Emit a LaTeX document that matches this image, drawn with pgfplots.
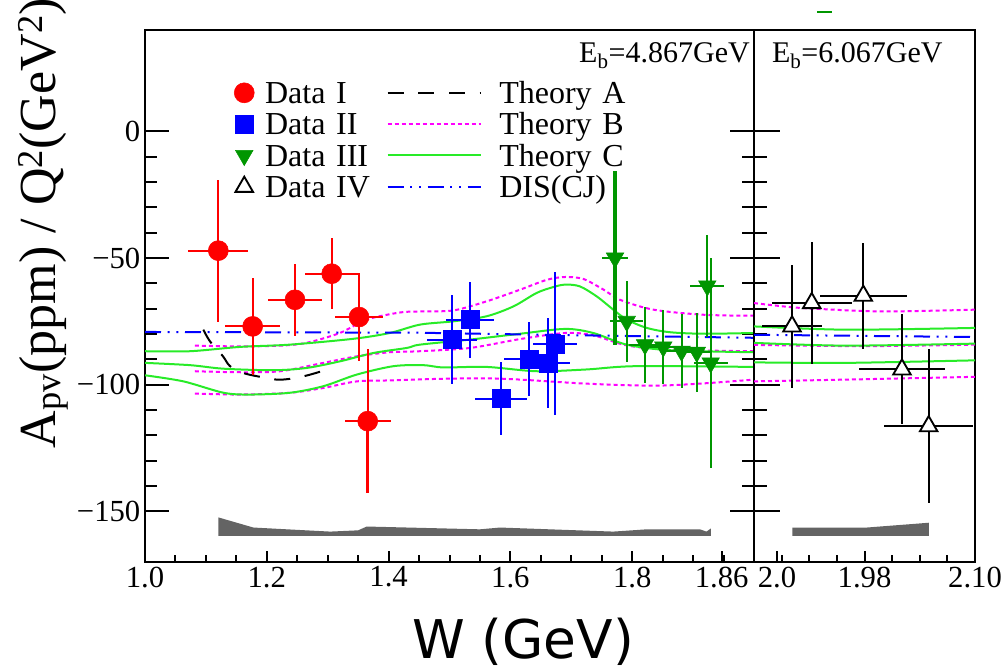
\documentclass[border=0pt]{standalone}
\usepackage{pgfplots}
\pgfplotsset{compat=1.18}
\usepackage{pgfplotstable}
\usepackage{fontspec}
\setmainfont{Liberation Serif}
\newfontfamily\serifmain{Liberation Serif}
\newfontfamily\labelsans{DejaVu Sans}

\definecolor{datared}{RGB}{255,0,0}
\definecolor{datablue}{RGB}{0,0,255}
\definecolor{datagreen}{RGB}{0,150,0}
\definecolor{theogreen}{RGB}{40,235,40}
\definecolor{theomag}{RGB}{255,0,255}
\definecolor{disblue}{RGB}{0,0,255}
\definecolor{sysgray}{RGB}{100,100,100}

% W (GeV), A_pv/Q^2, half-widths of the error bars
\pgfplotstableread{
x       y       ex      ey
1.1204  -47.1   0.049   28.0
1.1768  -77.0   0.045   19.0
1.2463  -66.5   0.044   14.3
1.3066  -56.2   0.044   13.9
1.3514  -73.3   0.040   17.3
1.3657  -114.4  0.038   28.5
}\dataI
\pgfplotstableread{
x       y       ex      ey
1.5041  -82.2   0.0405  17.7
1.5337  -74.3   0.039   15.0
1.5846  -105.5  0.042   14.3
1.6305  -89.8   0.041   14.5
1.6622  -91.4   0.035   17.7
1.6732  -83.9   0.0356  28.2
}\dataII
\pgfplotstableread{
x       y       ex      ey
1.7718  -50.0   0.021   34.3
1.7910  -75.0   0.027   16.0
1.8210  -84.2   0.026   15.0
1.8510  -85.1   0.029   14.5
1.8810  -86.8   0.029   14.7
1.9060  -87.2   0.025   15.6
1.9233  -61.0   0.028   20.0
1.9289  -91.4   0.028   41.5
}\dataIII
\pgfplotstableread{
x       y       ex      ey
1.9013  -77.0   0.0326  24.3
1.9227  -67.8   0.0434  24.0
1.9787  -64.9   0.047   21.0
2.0207  -94.0   0.0467  21.7
2.0497  -116.4  0.0485  30.4
}\dataIV

\newcommand{\ticksize}{\serifmain\fontsize{23pt}{23pt}\selectfont}

\pgfplotsset{
  panel/.style={
    scale only axis, height=399pt,
    ymin=-170, ymax=40,
    axis line style={line width=1.5pt},
    tick style={line width=1.5pt, black},
    tick align=inside,
    xtick pos=left,
    ytick={-150,-100,-50,0}, minor y tick num=4,
    minor x tick num=3,
    ticklabel style={font=\ticksize},
    clip=true,
  },
  theoB/.style={theomag, line width=1.5pt, dash pattern=on 3pt off 2.25pt},
  theoC/.style={theogreen, line width=1.5pt},
  theoA/.style={black, line width=1.5pt, dash pattern=on 12pt off 11pt},
  dis/.style={disblue, line width=1.5pt, dash pattern=on 12pt off 5pt on 1.5pt off 5pt on 1.5pt off 5pt},
  ebars/.style={error bars/.cd, x dir=both, x explicit, y dir=both, y explicit, error mark=none,
    error bar style={line width=#1}},
  markentry/.style={legend image code/.code={
      \path[draw=none, fill=none] (-11pt,-12pt) rectangle (15.6pt,12pt);
      \draw[##1] plot coordinates {(0pt,0pt)};}},
  lineentry/.style={legend image code/.code={
      \path[draw=none, fill=none] (0pt,-12pt) rectangle (83.7pt,12pt);
      \draw[##1] (0pt,0pt) -- (70pt,0pt);}},
}

\begin{document}
\begin{tikzpicture}
\useasboundingbox (0pt,0pt) rectangle (755.25pt,503.25pt);

% ---------------- E_b = 4.867 GeV ----------------
\begin{axis}[panel,
  at={(108.75pt,81.75pt)}, anchor=south west, width=456.75pt,
  xmin=1, xmax=2,
  xtick={1,1.2,1.4,1.6,1.8,2.0}, xticklabels={1.0,1.2,1.4,1.6,1.8,{}},
  extra x ticks={1.947}, extra x tick labels={1.86},
  extra x tick style={major tick length=0pt},
  yticklabels={−150,−100,−50,0},
  major tick length=18pt, minor tick length=9pt,
  xtick style={/pgfplots/major tick length=8.25pt, /pgfplots/minor tick length=5.25pt},
  legend columns=2, legend cell align=left,
  legend style={draw=none, fill=none, inner sep=0pt, outer sep=0pt,
    at={(axis description cs:0.1389,0.912)}, anchor=north west,
    font=\serifmain\fontsize{24pt}{24pt}\selectfont,
    row sep={23.5pt,between origins}, column sep=0pt,
    nodes={inner sep=0pt, text width=91.25pt, align=left, text height=15.9pt, text depth=0pt}},
]
\addlegendimage{markentry, only marks, mark=*, datared, mark size=7.5pt}
\addlegendentry{Data I}
\addlegendimage{lineentry, theoA}
\addlegendentry{\mbox{Theory A}}
\addlegendimage{markentry, only marks, mark=square*, datablue, mark size=6.75pt}
\addlegendentry{Data II}
\addlegendimage{lineentry, theoB}
\addlegendentry{\mbox{Theory B}}
\addlegendimage{markentry, only marks, mark=triangle*, datagreen, mark size=7.6pt, mark options={rotate=180}}
\addlegendentry{Data III}
\addlegendimage{lineentry, theoC}
\addlegendentry{\mbox{Theory C}}
\addlegendimage{markentry, only marks, mark=triangle*, black, mark size=7.6pt, mark options={fill=white, line width=1.4pt}}
\addlegendentry{Data IV}
\addlegendimage{lineentry, dis}
\addlegendentry{\mbox{DIS(CJ)}}

% systematic band
\addplot[forget plot, fill=sysgray, draw=none] coordinates {
  (1.1205,-152.4) (1.178,-156.4) (1.304,-158.0) (1.350,-157.5) (1.364,-156.0)
  (1.550,-157.1) (1.583,-156.4) (1.769,-158.0) (1.824,-157.1) (1.911,-157.1)
  (1.922,-158.0) (1.929,-156.8) (1.929,-159.7) (1.1205,-159.7)} -- cycle;

% Theory B band (upper, central, lower)
\addplot[forget plot, theoB, smooth] coordinates {
  (1.082,-84.6) (1.156,-84.9) (1.222,-84.6) (1.265,-83.5) (1.320,-79.6) (1.364,-74.3)
  (1.419,-71.5) (1.4516,-71.1) (1.5063,-70.7) (1.561,-67.1) (1.616,-62.5) (1.660,-58.6)
  (1.690,-57.5) (1.720,-58.3) (1.753,-62.5) (1.780,-66.5) (1.835,-70.4) (1.917,-72.4) (2.0,-72.8)};
\addplot[forget plot, theoB, smooth] coordinates {
  (1.082,-94.7) (1.156,-95.1) (1.222,-94.7) (1.293,-91.4) (1.348,-88.8) (1.402,-87.2)
  (1.4516,-86.8) (1.534,-85.5) (1.616,-82.0) (1.690,-79.6) (1.736,-80.5) (1.791,-84.5)
  (1.862,-86.2) (2.0,-86.8)};
\addplot[forget plot, theoB, smooth] coordinates {
  (1.082,-103.5) (1.156,-103.9) (1.238,-103.2) (1.293,-101.3) (1.348,-98.7) (1.408,-98.3)
  (1.484,-97.7) (1.56,-97.5) (1.616,-98.0) (1.725,-99.6) (1.835,-100.4) (1.917,-99.5) (2.0,-98.0)};

% Theory C band
\addplot[forget plot, theoC, smooth] coordinates {
  (1.0,-86.8) (1.074,-86.8) (1.156,-85.1) (1.238,-84.2) (1.342,-81.9) (1.402,-79.6)
  (1.4516,-76.3) (1.5063,-75.0) (1.561,-73.0) (1.605,-69.1) (1.643,-63.8) (1.670,-61.5)
  (1.690,-60.5) (1.714,-61.2) (1.742,-65.2) (1.769,-70.4) (1.791,-74.3) (1.824,-77.6)
  (1.862,-79.3) (1.917,-79.9) (2.0,-79.6)};
\addplot[forget plot, theoC, smooth] coordinates {
  (1.0,-91.4) (1.074,-92.3) (1.129,-93.7) (1.211,-94.3) (1.2655,-93.4) (1.320,-90.8)
  (1.375,-87.5) (1.43,-85.5) (1.4516,-84.2) (1.534,-82.2) (1.616,-79.9) (1.690,-78.0)
  (1.736,-79.6) (1.791,-84.2) (1.862,-86.4) (2.0,-87.2)};
\addplot[forget plot, theoC, smooth] coordinates {
  (1.0,-96.3) (1.063,-98.7) (1.129,-103.2) (1.172,-103.9) (1.238,-103.2) (1.293,-100.6)
  (1.348,-96.0) (1.408,-92.7) (1.457,-92.3) (1.49,-93.2) (1.561,-93.0) (1.643,-94.7)
  (1.725,-94.0) (1.807,-92.7) (2.0,-93.0)};

% Theory A
\addplot[forget plot, theoA, smooth] coordinates {
  (1.0958,-78.3) (1.1067,-82.9) (1.128,-88.8) (1.1396,-92.7) (1.1614,-95.4)
  (1.1888,-96.9) (1.216,-98.0) (1.238,-97.7) (1.2655,-96.4) (1.290,-94.7)};

% DIS(CJ)
\addplot[forget plot, dis] coordinates {(1.0,-79.2) (1.45,-79.5) (1.65,-80.3) (2.0,-81.5)};

% data
\addplot[forget plot, only marks, mark=*, datared, mark size=7.5pt, ebars=1.5pt]
  table[x=x, y=y, x error=ex, y error=ey] {\dataI};
\addplot[forget plot, only marks, mark=none, datared,
  error bars/.cd, y dir=minus, y explicit, error mark=none, error bar style={line width=2.4pt}]
  coordinates {(1.3657,-114.4) +- (0,28.5)};
\addplot[forget plot, only marks, mark=square*, datablue, mark size=6.75pt, ebars=1.5pt]
  table[x=x, y=y, x error=ex, y error=ey] {\dataII};
\addplot[forget plot, only marks, mark=triangle*, datagreen, mark size=7.6pt,
  mark options={rotate=180}, ebars=1.5pt]
  table[x=x, y=y, x error=ex, y error=ey] {\dataIII};
\addplot[forget plot, only marks, mark=none, datagreen,
  error bars/.cd, y dir=both, y explicit, error mark=none, error bar style={line width=2.4pt}]
  coordinates {(1.7718,-50.0) +- (0,34.3)};
\end{axis}

% ---------------- E_b = 6.067 GeV ----------------
\begin{axis}[panel,
  at={(565.5pt,81.75pt)}, anchor=south west, width=165.75pt,
  xmin=1.86, xmax=2.10,
  xtick={1.86,1.98,2.10}, xticklabels={{},1.98,2.10},
  extra x ticks={1.885}, extra x tick labels={2.0},
  extra x tick style={major tick length=0pt},
  yticklabels={},
  ytick pos=left,
  major tick length=19.5pt, minor tick length=9.75pt,
  xtick style={/pgfplots/major tick length=8.25pt, /pgfplots/minor tick length=5.25pt},
]
\addplot[fill=sysgray, draw=none] coordinates {
  (1.9016,-156.4) (1.9824,-156.4) (2.05,-154.5) (2.05,-159.7) (1.9016,-159.7)} -- cycle;

\addplot[theoB, smooth] coordinates {(1.86,-67.8) (1.90,-69.4) (1.93,-70.1) (2.0,-71.1) (2.10,-70.4)};
\addplot[theoB, smooth] coordinates {(1.86,-84.3) (1.98,-84.8) (2.10,-84.2)};
\addplot[theoB, smooth] coordinates {(1.86,-98.7) (1.96,-98.0) (2.10,-96.9)};
\addplot[theoC, smooth] coordinates {(1.86,-77.0) (1.96,-78.3) (2.10,-77.6)};
\addplot[theoC, smooth] coordinates {(1.86,-83.5) (1.96,-84.6) (2.10,-83.8)};
\addplot[theoC, smooth] coordinates {(1.86,-91.2) (1.96,-91.4) (2.10,-90.4)};
\addplot[dis] coordinates {(1.86,-80.3) (2.10,-81.2)};

% error bars first, open markers on top
\addplot[only marks, mark=none, black, ebars=1.5pt]
  table[x=x, y=y, x error=ex, y error=ey] {\dataIV};
\addplot[only marks, mark=triangle*, black, mark size=7.6pt,
  mark options={fill=white, line width=1.4pt}]
  table[x=x, y=y] {\dataIV};
\end{axis}

% beam-energy labels
\node[anchor=base east, inner sep=0pt, font=\serifmain\fontsize{22.5pt}{22.5pt}\selectfont]
  at (562.5pt,456pt) {E\textsubscript{b}=4.867GeV};
\node[anchor=base west, inner sep=0pt, font=\serifmain\fontsize{22.5pt}{22.5pt}\selectfont]
  at (578.8pt,456pt) {E\textsubscript{b}=6.067GeV};

% axis titles
\node[rotate=90, anchor=base west, inner sep=0pt, font=\serifmain\fontsize{39pt}{39pt}\selectfont]
  at (41.25pt,167pt) {A\textsubscript{pv}(ppm) / Q\textsuperscript{2}(GeV\textsuperscript{2})};
\node[anchor=base, inner sep=0pt, font=\labelsans\fontsize{40pt}{40pt}\selectfont]
  at (392.25pt,9.5pt) {W (GeV)};

\draw[datagreen, line width=2pt] (612.75pt,494.25pt) -- (624pt,494.25pt);
\end{tikzpicture}
\end{document}
